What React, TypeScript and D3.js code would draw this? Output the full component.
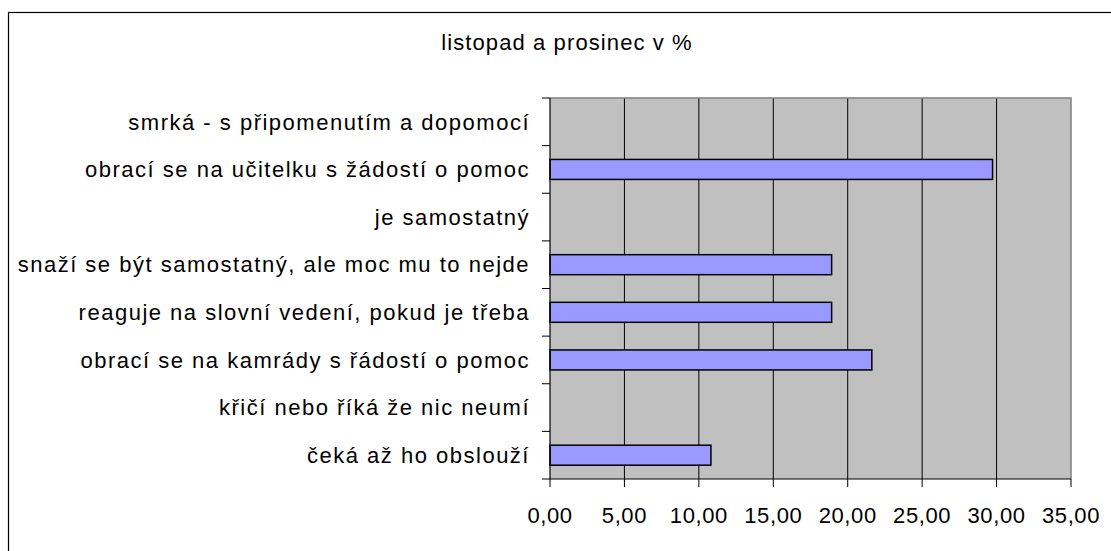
import * as d3 from "d3";

// categories listed top to bottom
const categories = [
  "smrká - s připomenutím a dopomocí",
  "obrací se na učitelku s žádostí o pomoc",
  "je samostatný",
  "snaží se být samostatný, ale moc mu to nejde",
  "reaguje na slovní vedení, pokud je třeba",
  "obrací se na kamrády s řádostí o pomoc",
  "křičí nebo říká že nic neumí",
  "čeká až ho obslouží",
];
const values = [0, 29.73, 0, 18.92, 18.92, 21.62, 0, 10.81];
const xTicks = [0, 5, 10, 15, 20, 25, 30, 35];
const title = "listopad a prosinec v %";

const W = 1111;
const H = 551;
const margin = { top: 98, right: 40, bottom: 72, left: 550 };
const font = "'Liberation Sans', Arial, sans-serif";

export default function App() {
  const x = d3.scaleLinear().domain([0, 35]).range([margin.left, W - margin.right]);
  const y = d3
    .scaleBand<string>()
    .domain(categories)
    .range([margin.top, H - margin.bottom])
    .paddingInner(0.58)
    .paddingOuter(0.29);
  const step = y.step();
  const top = margin.top;
  const bottom = H - margin.bottom;
  const fmt = (v: number) => d3.format(".2f")(v).replace(".", ",");

  return (
    <svg
      width={W}
      height={H}
      style={{ position: "absolute", left: 0, top: 0, display: "block", background: "#fff" }}
      fontFamily={font}
    >
      {/* outer chart frame (runs off the picture on the right and bottom) */}
      <rect x={8.5} y={12.5} width={1200} height={700} fill="none" stroke="#000" strokeWidth={1.2} />

      <text x={567} y={50} textAnchor="middle" fontSize={22} letterSpacing={1.1} fill="#000">
        {title}
      </text>

      {/* plot area */}
      <rect x={x(0)} y={top} width={x(35) - x(0)} height={bottom - top} fill="#c0c0c0" />
      {xTicks.slice(1, -1).map((t) => (
        <line key={"g" + t} x1={x(t)} x2={x(t)} y1={top} y2={bottom} stroke="#000" strokeWidth={1} />
      ))}
      <polyline
        points={`${x(0)},${top} ${x(35)},${top} ${x(35)},${bottom}`}
        fill="none"
        stroke="#808080"
        strokeWidth={1.5}
      />

      {/* bars */}
      {categories.map((c, i) =>
        values[i] > 0 ? (
          <rect
            key={c}
            x={x(0)}
            y={y(c)}
            width={x(values[i]) - x(0)}
            height={y.bandwidth()}
            fill="#9999ff"
            stroke="#000"
            strokeWidth={1.5}
          />
        ) : null
      )}

      {/* axes */}
      <line x1={x(0)} x2={x(0)} y1={top} y2={bottom} stroke="#000" strokeWidth={1.2} />
      <line x1={x(0)} x2={x(35)} y1={bottom} y2={bottom} stroke="#000" strokeWidth={1.2} />
      {categories.map((c) => {
        const yy = (y(c) as number) - (step * y.paddingInner()) / 2;
        return <line key={"t" + c} x1={x(0) - 8} x2={x(0)} y1={yy} y2={yy} stroke="#000" strokeWidth={1} />;
      })}
      <line x1={x(0) - 8} x2={x(0)} y1={bottom} y2={bottom} stroke="#000" strokeWidth={1} />
      {xTicks.map((t) => (
        <line key={"xt" + t} x1={x(t)} x2={x(t)} y1={bottom} y2={bottom + 8} stroke="#000" strokeWidth={1} />
      ))}

      {/* labels */}
      {xTicks.map((t) => (
        <text
          key={"xl" + t}
          x={x(t)}
          y={523}
          textAnchor="middle"
          fontSize={22}
          letterSpacing={0.6}
          fill="#000"
        >
          {fmt(t)}
        </text>
      ))}
      {categories.map((c) => (
        <text
          key={"yl" + c}
          x={530}
          y={(y(c) as number) + y.bandwidth() / 2}
          dy="0.35em"
          textAnchor="end"
          fontSize={22}
          letterSpacing={1.5}
          fill="#000"
        >
          {c}
        </text>
      ))}
    </svg>
  );
}
